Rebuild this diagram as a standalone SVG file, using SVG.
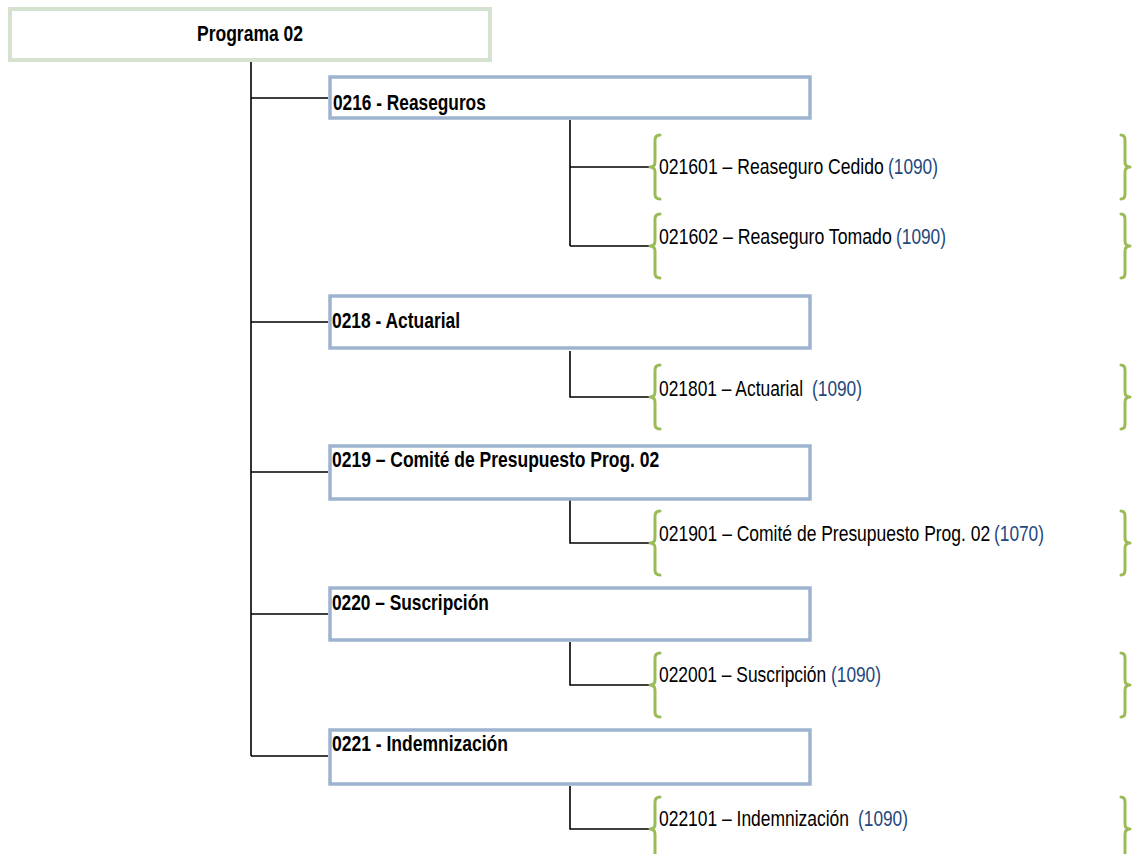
<svg xmlns="http://www.w3.org/2000/svg" width="1140" height="854" viewBox="0 0 1140 854">
<style>
.bg{fill:#ffffff}
.root{fill:#ffffff;stroke:#d5e2cf;stroke-width:4}
.box{fill:#ffffff;stroke:#9db3cf;stroke-width:3.5}
.ln{fill:none;stroke:#000000;stroke-width:1.6}
.br{fill:none;stroke:#9bbb59;stroke-width:3;stroke-linecap:round;stroke-linejoin:round}
.t{font-family:"Liberation Sans",Arial,sans-serif;font-size:22px;fill:#000000}
.b{font-weight:bold}
.n{fill:#1f497d}
</style>
<rect class="bg" x="0" y="0" width="1140" height="854"/>
<g id="connectors">
<path class="ln" d="M251 61 V756"/>
<path class="ln" d="M251 98 H328 M251 322 H328 M251 472 H328 M251 614 H328 M251 756 H328"/>
<path class="ln" d="M570 120 V246 M570 167 H650 M570 246 H650"/>
<path class="ln" d="M570 351 V397 H650"/>
<path class="ln" d="M570 500 V543 H650"/>
<path class="ln" d="M570 642 V685 H650"/>
<path class="ln" d="M570 786 V829 H650"/>
</g>
<g id="root">
<rect class="root" x="10" y="9" width="480" height="51"/>
<text class="t b" transform="translate(197 41) scale(0.8 1)" textLength="132.5" lengthAdjust="spacingAndGlyphs">Programa 02</text>
</g>
<g id="n0216">
<rect class="box" x="330" y="77" width="480" height="41"/>
<text class="t b" transform="translate(333 110) scale(0.8 1)" textLength="191" lengthAdjust="spacingAndGlyphs">0216 - Reaseguros</text>
</g>
<g id="n0218">
<rect class="box" x="330" y="296" width="480" height="52"/>
<text class="t b" transform="translate(332 328) scale(0.8 1)" textLength="160" lengthAdjust="spacingAndGlyphs">0218 - Actuarial</text>
</g>
<g id="n0219">
<rect class="box" x="330" y="446" width="480" height="53"/>
<text class="t b" transform="translate(332 467) scale(0.8 1)" textLength="409" lengthAdjust="spacingAndGlyphs">0219 – Comité de Presupuesto Prog. 02</text>
</g>
<g id="n0220">
<rect class="box" x="330" y="588" width="480" height="52"/>
<text class="t b" transform="translate(332 610) scale(0.8 1)" textLength="196" lengthAdjust="spacingAndGlyphs">0220 – Suscripción</text>
</g>
<g id="n0221">
<rect class="box" x="330" y="730" width="480" height="54"/>
<text class="t b" transform="translate(332 751) scale(0.8 1)" textLength="220" lengthAdjust="spacingAndGlyphs">0221 - Indemnización</text>
</g>
<g id="c021601">
<path class="br" d="M660 135 Q655 135 655 140 V162 Q655 167 650 167 Q655 167 655 172 V194 Q655 199 660 199"/>
<path class="br" d="M1121 135 Q1125 135 1125 140 V162 Q1125 167 1130 167 Q1125 167 1125 172 V194 Q1125 199 1121 199"/>
<text class="t" transform="translate(659 174) scale(0.8 1)" textLength="281" lengthAdjust="spacingAndGlyphs">021601 – Reaseguro Cedido</text>
<text class="t n" transform="translate(888 174) scale(0.8 1)" textLength="62.5" lengthAdjust="spacingAndGlyphs">(1090)</text>
</g>
<g id="c021602">
<path class="br" d="M660 214 Q655 214 655 219 V241 Q655 246 650 246 Q655 246 655 251 V273 Q655 278 660 278"/>
<path class="br" d="M1121 214 Q1125 214 1125 219 V241 Q1125 246 1130 246 Q1125 246 1125 251 V273 Q1125 278 1121 278"/>
<text class="t" transform="translate(659 244) scale(0.8 1)" textLength="291" lengthAdjust="spacingAndGlyphs">021602 – Reaseguro Tomado</text>
<text class="t n" transform="translate(896 244) scale(0.8 1)" textLength="62.5" lengthAdjust="spacingAndGlyphs">(1090)</text>
</g>
<g id="c021801">
<path class="br" d="M660 365 Q655 365 655 370 V392 Q655 397 650 397 Q655 397 655 402 V424 Q655 429 660 429"/>
<path class="br" d="M1121 365 Q1125 365 1125 370 V392 Q1125 397 1130 397 Q1125 397 1125 402 V424 Q1125 429 1121 429"/>
<text class="t" transform="translate(659 396) scale(0.8 1)" textLength="180" lengthAdjust="spacingAndGlyphs">021801 – Actuarial</text>
<text class="t n" transform="translate(812 396) scale(0.8 1)" textLength="62.5" lengthAdjust="spacingAndGlyphs">(1090)</text>
</g>
<g id="c021901">
<path class="br" d="M660 511 Q655 511 655 516 V538 Q655 543 650 543 Q655 543 655 548 V570 Q655 575 660 575"/>
<path class="br" d="M1121 511 Q1125 511 1125 516 V538 Q1125 543 1130 543 Q1125 543 1125 548 V570 Q1125 575 1121 575"/>
<text class="t" transform="translate(659 541) scale(0.8 1)" textLength="414" lengthAdjust="spacingAndGlyphs">021901 – Comité de Presupuesto Prog. 02</text>
<text class="t n" transform="translate(994 541) scale(0.8 1)" textLength="62.5" lengthAdjust="spacingAndGlyphs">(1070)</text>
</g>
<g id="c022001">
<path class="br" d="M660 653 Q655 653 655 658 V680 Q655 685 650 685 Q655 685 655 690 V712 Q655 717 660 717"/>
<path class="br" d="M1121 653 Q1125 653 1125 658 V680 Q1125 685 1130 685 Q1125 685 1125 690 V712 Q1125 717 1121 717"/>
<text class="t" transform="translate(659 682) scale(0.8 1)" textLength="209" lengthAdjust="spacingAndGlyphs">022001 – Suscripción</text>
<text class="t n" transform="translate(831 682) scale(0.8 1)" textLength="62.5" lengthAdjust="spacingAndGlyphs">(1090)</text>
</g>
<g id="c022101">
<path class="br" d="M660 797 Q655 797 655 802 V824 Q655 829 650 829 Q655 829 655 834 V856 Q655 861 660 861"/>
<path class="br" d="M1121 797 Q1125 797 1125 802 V824 Q1125 829 1130 829 Q1125 829 1125 834 V856 Q1125 861 1121 861"/>
<text class="t" transform="translate(659 826) scale(0.8 1)" textLength="237.5" lengthAdjust="spacingAndGlyphs">022101 – Indemnización</text>
<text class="t n" transform="translate(858 826) scale(0.8 1)" textLength="62.5" lengthAdjust="spacingAndGlyphs">(1090)</text>
</g>
</svg>
